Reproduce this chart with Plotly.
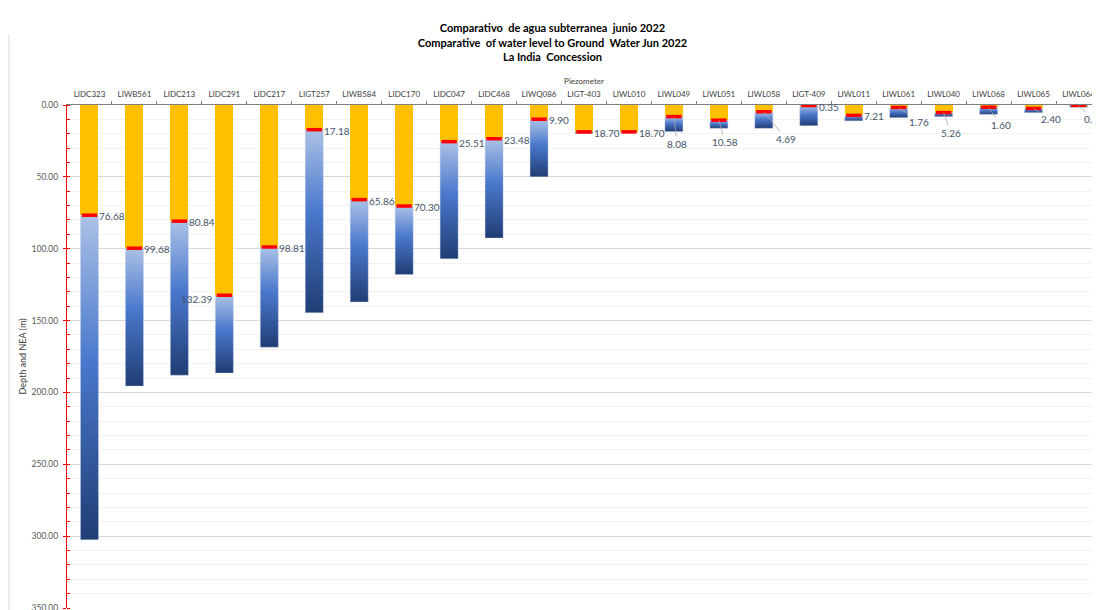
import plotly.graph_objects as go

# piezometers, water level (m) and total depth (m)
piezometers = ["LIDC323", "LIWB561", "LIDC213", "LIDC291", "LIDC217", "LIGT257", "LIWB584",
               "LIDC170", "LIDC047", "LIDC468", "LIWQ086", "LIGT-403", "LIWL010", "LIWL049",
               "LIWL051", "LIWL058", "LIGT-409", "LIWL011", "LIWL061", "LIWL040", "LIWL068",
               "LIWL065", "LIWL064"]
water_level = [76.68, 99.68, 80.84, 132.39, 98.81, 17.18, 65.86, 70.30, 25.51, 23.48, 9.90,
               18.70, 18.70, 8.08, 10.58, 4.69, 0.35, 7.21, 1.76, 5.26, 1.60, 2.40, 0.25]
total_depth = [302.5, 195.5, 188.0, 186.5, 168.5, 144.5, 137.0, 118.0, 107.0, 92.5, 50.0,
               19.8, 19.0, 18.5, 16.2, 16.2, 14.4, 11.0, 8.8, 8.1, 6.5, 5.3, 1.5]

# label placement: (dx px, dy px) for the ones with a leader line
label_pos = {
    "LIDC291": ("left",),
    "LIWL049": (3, 27),
    "LIWL051": (6, 22),
    "LIWL058": (22, 27),
    "LIWL061": (20, 14),
    "LIWL040": (7, 20),
    "LIWL068": (12, 18),
    "LIWL065": (17, 11),
    "LIWL064": (15, 14),
}

YELLOW = "#FFC000"
LABEL_COLOR = "#44546A"
FONT = "Lato"
half_w = 0.2
xs = list(range(len(piezometers)))

fig = go.Figure()

# dry part of the casing (surface to water level)
fig.add_trace(go.Bar(x=xs, y=water_level, width=half_w * 2, marker_color=YELLOW,
                     marker_line_width=0, showlegend=False, hoverinfo="skip"))

# saturated part with Excel-like vertical gradient (light on top, dark at the bottom)
for i, (lvl, dep) in enumerate(zip(water_level, total_depth)):
    fig.add_trace(go.Scatter(
        x=[i - half_w, i + half_w, i + half_w, i - half_w, i - half_w],
        y=[lvl, lvl, dep, dep, lvl],
        mode="lines", fill="toself",
        line=dict(color="rgba(190,205,235,0.6)", width=0.6),
        fillgradient=dict(type="vertical",
                          colorscale=[[0, "#203D74"], [0.55, "#4A78CC"], [1, "#ABC1E6"]]),
        showlegend=False, hoverinfo="skip"))

# water level marker
fig.add_trace(go.Scatter(x=xs, y=water_level, mode="markers",
                         marker=dict(symbol="line-ew", size=11, line=dict(color="#FF0000", width=3.5)),
                         showlegend=False, hoverinfo="skip"))

for i, (name, lvl) in enumerate(zip(piezometers, water_level)):
    txt = f"{lvl:.2f}"
    pos = label_pos.get(name)
    if pos is None:
        fig.add_annotation(x=i, y=lvl, text=txt, showarrow=False, xanchor="left",
                           xshift=8, yshift=-1, font=dict(size=10, color=LABEL_COLOR, family=FONT))
    elif pos[0] == "left":
        fig.add_annotation(x=i, y=lvl, text=txt, showarrow=False, xanchor="right",
                           xshift=-9, yshift=-4, font=dict(size=10, color=LABEL_COLOR, family=FONT))
    else:
        fig.add_annotation(x=i, y=lvl, text=txt, showarrow=True, arrowhead=0, arrowwidth=0.8,
                           arrowcolor="#A6A6A6", ax=pos[0], ay=pos[1], standoff=0,
                           font=dict(size=10, color=LABEL_COLOR, family=FONT))

# light frame line on the left edge of the chart area
fig.add_shape(type="line", xref="paper", yref="paper", x0=-0.056, x1=-0.056, y0=-0.05, y1=1.14,
              line=dict(color="#D9D9D9", width=1))

fig.update_layout(
    width=1100, height=610,
    margin=dict(l=59, r=7, t=97, b=5),
    paper_bgcolor="white", plot_bgcolor="white",
    font=dict(family=FONT, size=9, color="#595959"),
    title=dict(text="Comparativo  de agua subterranea  junio 2022<br>"
                    "Comparative  of water level to Ground  Water Jun 2022<br>La India  Concession",
               x=0.495, xref="container", xanchor="center",
               y=0.96, yref="container", yanchor="top",
               font=dict(family=FONT, size=11, color="black", weight="bold")),
    showlegend=False,
    bargap=0,
)

fig.update_xaxes(
    range=[-0.5, len(piezometers) - 0.5], side="top",
    tickvals=xs, ticktext=piezometers, ticks="", ticklabelstandoff=4,
    tickfont=dict(size=8, color="#404040"),
    showline=True, linecolor="#7F7F7F", linewidth=1.2,
    showgrid=False, zeroline=False,
    minor=dict(tickvals=[i + 0.5 for i in xs[:-1]], ticks="outside", ticklen=3,
               tickcolor="#7F7F7F", showgrid=False),
    title=dict(text="Piezometer", font=dict(size=8, color="#404040"), standoff=2),
)

fig.update_yaxes(
    range=[350, 0], tickvals=[0, 50, 100, 150, 200, 250, 300, 350], tickformat=".2f",
    ticks="outside", ticklen=3, tickcolor="#FF0000", ticklabelstandoff=3,
    tickfont=dict(size=8.5, color="#595959"),
    showline=True, linecolor="#FF0000", linewidth=1.2,
    showgrid=True, gridcolor="#D9D9D9", gridwidth=1, zeroline=False,
    minor=dict(dtick=10, ticks="inside", ticklen=3, tickcolor="#FF0000",
               showgrid=True, gridcolor="#F2F2F2", gridwidth=1),
    title=dict(text="Depth and NEA (m)", font=dict(size=9, color="#404040"), standoff=3),
)

fig.write_html("out.html")
